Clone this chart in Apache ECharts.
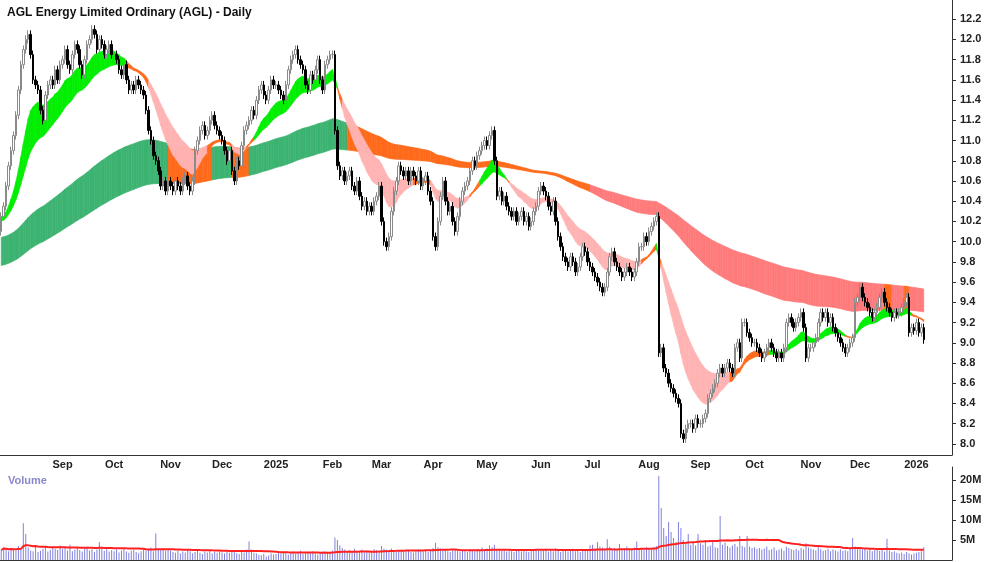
<!DOCTYPE html>
<html><head><meta charset="utf-8">
<script src="https://cdn.jsdelivr.net/npm/echarts@6/dist/echarts.min.js"></script>
<style>html,body{margin:0;padding:0;background:#fff}#c{width:1000px;height:562px}</style>
</head><body><div id="c"></div>
<script>
// daily closes by month
const closesAug24=[10.25,10.35,10.55,10.75,10.9,11.05,11.25,11.5,11.75,11.9,12.0,12.05,11.85,11.6,11.55,11.5,11.3,11.2,11.45,11.55,11.6,11.55,11.7,11.6,11.75];
const closesSep24=[11.8,11.9,11.75,11.7,11.85,11.95,11.9,11.75,11.65,11.8,11.95,12.0,12.1,12.05,11.9,12.0,11.95,11.85,11.9,11.95,11.85];
const closesOct24=[11.85,11.8,11.7,11.65,11.75,11.6,11.5,11.55,11.5,11.6,11.55,11.5,11.45,11.3,11.1,11.0,10.85,10.8,10.7,10.55,10.6,10.5,10.6];
const closesNov24=[10.55,10.5,10.6,10.55,10.5,10.6,10.65,10.55,10.5,10.6,10.9,11.0,11.1,11.15,11.05,11.1,11.2,11.25,11.15,11.1,11.05];
const closesDec24=[11.0,10.9,10.8,10.9,10.7,10.6,10.8,10.75,10.95,11.1,11.15,11.2,11.3,11.25,11.4,11.5,11.55,11.45,11.4,11.5,11.6,11.55];
const closesJan25=[11.55,11.5,11.45,11.4,11.55,11.7,11.8,11.85,11.9,11.8,11.75,11.7,11.55,11.5,11.65,11.6,11.7,11.8,11.6,11.5,11.75,11.8,11.85];
const closesFeb25=[11.85,11.1,10.75,10.65,10.7,10.6,10.65,10.7,10.55,10.5,10.6,10.45,10.35,10.4,10.3,10.35,10.3,10.4,10.45,10.55];
const closesMar25=[10.2,10.0,9.95,10.05,10.3,10.5,10.6,10.75,10.7,10.65,10.7,10.6,10.7,10.65,10.6,10.7,10.55,10.6,10.65,10.5,10.4];
const closesApr25=[10.05,9.95,10.2,10.45,10.6,10.4,10.3,10.35,10.2,10.1,10.25,10.4,10.5,10.55,10.6,10.7,10.8,10.75,10.85,10.9,10.95,11.0];
const closesMay25=[10.95,11.05,11.1,10.8,10.45,10.5,10.4,10.45,10.35,10.3,10.25,10.3,10.2,10.25,10.3,10.2,10.25,10.15,10.2,10.3,10.35,10.5];
const closesJun25=[10.55,10.5,10.45,10.35,10.3,10.4,10.2,10.05,9.95,9.85,9.8,9.75,9.85,9.8,9.7,9.75,9.85,9.95,9.9,9.8,9.75];
const closesJul25=[9.7,9.65,9.6,9.55,9.5,9.55,9.7,9.85,9.9,9.8,9.75,9.7,9.65,9.7,9.75,9.7,9.65,9.7,9.8,9.95,9.95,10.05,10.0];
const closesAug25=[10.1,10.15,10.2,10.25,8.9,8.95,8.75,8.7,8.6,8.55,8.5,8.45,8.4,8.1,8.05,8.15,8.2,8.2,8.15,8.25,8.2];
const closesSep25=[8.2,8.25,8.3,8.45,8.5,8.55,8.6,8.7,8.75,8.7,8.75,8.8,8.75,8.7,8.95,9.0,8.85,9.2,9.2,9.1,9.05,9.0];
const closesOct25=[9.0,8.95,8.9,8.85,8.9,8.95,9.0,8.95,8.9,8.85,8.9,8.85,8.95,9.2,9.25,9.2,9.15,9.2,9.25,9.3,9.15,8.85,8.95];
const closesNov25=[8.95,9.0,9.05,9.2,9.3,9.25,9.3,9.2,9.25,9.15,9.1,9.05,9.0,8.95,8.9,8.95,9.0,9.05,9.4,9.45];
const closesDec25=[9.55,9.45,9.4,9.35,9.3,9.25,9.3,9.35,9.45,9.5,9.4,9.35,9.3,9.25,9.3,9.28,9.3,9.35,9.4,9.45,9.1,9.15,9.12];
const closesJan26=[9.2,9.1,9.15,9.03];
const firstOpen=10.1;
const wick=0.04;
// volumes (millions)
const volumes=[
2.5,3.2,2.8,2.2,3.0,2.6,2.4,3.5,2.9,9.2,6.5,3.1,2.4,2.2,3.6,2.0,2.3,2.8,3.4,2.1,2.5,3.3,2.8,2.5,3.6,
2.8,3.1,2.4,3.8,2.2,2.6,3.0,2.5,2.1,2.9,3.3,2.4,2.7,2.0,2.6,4.5,3.2,2.3,2.8,2.1,2.5,
2.2,2.6,1.9,2.4,2.8,2.1,1.8,2.3,2.5,2.0,1.7,2.2,2.6,2.4,2.9,3.1,2.2,6.6,2.8,2.5,3.0,2.3,2.7,
2.4,2.0,1.8,2.3,1.6,2.1,1.9,2.5,2.2,1.7,2.0,2.4,1.8,1.5,2.1,1.9,2.3,1.6,2.0,1.8,2.2,
1.9,1.6,2.1,1.8,2.4,2.0,1.7,1.5,2.2,1.9,2.6,4.6,2.0,1.8,1.6,1.3,1.2,1.5,0.9,1.1,1.6,1.4,
1.5,1.8,1.6,2.0,1.7,1.4,1.9,2.1,1.6,1.8,2.3,1.5,1.7,2.0,1.9,2.2,1.6,1.4,1.8,2.1,1.7,1.9,2.0,
2.4,5.6,5.0,3.6,3.0,2.6,2.2,2.5,2.0,2.8,2.3,2.1,2.6,1.9,2.4,2.2,2.0,2.7,2.5,2.3,
3.5,2.8,2.6,2.4,2.9,2.2,2.0,2.5,2.3,2.1,2.6,2.4,2.0,1.9,2.2,2.7,2.3,2.1,2.5,2.0,2.4,
3.0,4.3,3.2,2.8,2.5,2.6,2.2,2.0,2.4,2.7,2.3,2.1,2.5,2.2,2.0,2.6,2.4,2.2,2.8,2.5,3.1,2.7,
2.9,3.6,3.2,3.8,2.7,2.5,2.3,2.6,2.1,2.4,2.2,2.0,2.5,2.3,2.1,2.6,2.2,2.0,2.4,2.7,2.5,2.3,
2.6,2.3,2.8,2.1,2.5,2.2,2.9,2.4,2.0,2.3,2.7,2.1,2.5,2.8,2.2,2.4,2.0,2.6,2.3,2.5,3.7,
3.8,2.9,4.5,3.4,3.1,2.8,5.2,3.3,2.6,3.0,2.7,4.0,2.5,2.9,3.4,2.8,2.6,3.1,4.6,2.7,3.0,2.5,3.2,
3.0,2.6,3.2,3.5,21.0,13.0,8.0,6.0,9.5,7.0,5.5,4.5,9.5,8.0,5.0,4.2,6.5,3.8,4.4,3.6,6.5,
4.2,3.8,5.0,3.4,3.6,4.5,3.2,3.0,11.0,3.8,4.4,3.5,3.1,3.6,4.0,3.3,6.0,3.5,3.2,6.0,3.4,3.0,
3.2,2.8,3.0,2.6,2.9,3.4,2.5,2.7,3.1,2.4,2.6,2.9,2.3,3.3,3.0,2.7,2.5,2.8,2.4,3.0,2.6,4.2,3.1,
2.9,2.6,2.4,3.2,2.7,2.3,2.5,2.8,2.2,2.6,2.4,2.1,2.7,2.3,2.5,2.2,2.8,5.5,3.4,2.9,
3.0,2.6,2.8,2.4,2.7,2.2,2.5,2.9,2.3,2.6,2.1,5.3,2.4,2.0,2.2,1.8,1.6,1.9,1.5,2.0,1.7,1.4,1.6,
1.8,2.0,2.2,3.2];
const priceTicks=[8.0,8.2,8.4,8.6,8.8,9.0,9.2,9.4,9.6,9.8,10.0,10.2,10.4,10.6,10.8,11.0,11.2,11.4,11.6,11.8,12.0,12.2];
const volTicks=[5,10,15,20];
const shortPeriods=[15,17,20,23,26,30], shortSeed=[10.25,10.24,10.23,10.22,10.21,10.2];
const longPeriods=[130,145,160,175,195,215], longSeed=[10.04,9.98,9.92,9.86,9.81,9.76];
const volMaLen=50;
const startDate='2024-07-29';
const padDays=11;

const closes=[].concat(closesAug24,closesSep24,closesOct24,closesNov24,closesDec24,closesJan25,closesFeb25,closesMar25,closesApr25,closesMay25,closesJun25,closesJul25,closesAug25,closesSep25,closesOct25,closesNov25,closesDec25,closesJan26);
const n=closes.length;
const dates=[];{let d=new Date(startDate+'T00:00:00Z');while(dates.length<n+padDays){const w=d.getUTCDay();if(w!==0&&w!==6)dates.push(d.toISOString().slice(0,10));d.setUTCDate(d.getUTCDate()+1);}}
const candles=closes.map((c,i)=>{const o=i?closes[i-1]:firstOpen;return [o,c,Math.min(o,c)-wick,Math.max(o,c)+wick];});
function emas(periods,seed){return periods.map((p,k)=>{let e=seed[k];const a=2/(p+1);return closes.map(c=>(e=e+a*(c-e)));});}
const S=emas(shortPeriods,shortSeed), L=emas(longPeriods,longSeed);
function order(G,i){const v=G.map(g=>g[i]);let asc=true,desc=true;for(let k=1;k<v.length;k++){if(v[k]>v[k-1])asc=false;if(v[k]<v[k-1])desc=false;}return {lo:Math.min(...v),hi:Math.max(...v),asc,desc};}
const shortBand=[],longBand=[];
for(let i=0;i<n;i++){const s=order(S,i),l=order(L,i);
shortBand.push([i,s.lo,s.hi,s.asc?'#00ee00':(s.desc?'#ffb3b3':'#ff6a1a')]);
longBand.push([i,l.lo,l.hi,(l.asc&&s.lo>l.hi)?'#3cb371':((l.desc&&s.hi<l.lo)?'#ff7b7b':'#ff6a1a')]);}
const vol=volumes.slice(0,n);
const volMa=vol.map((v,i)=>{const s=Math.max(0,i-volMaLen+1);let t=0;for(let j=s;j<=i;j++)t+=vol[j];return t/(i-s+1);});

function bandRender(data){return function(params,api){const i=api.value(0);if(i>=data.length-1)return;const a=data[i],b=data[i+1];
const p=[api.coord([i,a[1]]),api.coord([i+1,b[1]]),api.coord([i+1,b[2]]),api.coord([i,a[2]])];
return {type:'polygon',shape:{points:p},style:{fill:a[3],stroke:a[3],lineWidth:0.6}};};}
const mNames=['Jan','Feb','Mar','Apr','May','Jun','Jul','Aug','Sep','Oct','Nov','Dec'];
const isMonthStart=(i)=>i>5&&dates[i].slice(5,7)!==dates[i-1].slice(5,7);
const font={fontFamily:'Liberation Sans, Arial',fontWeight:'bold',fontSize:11,color:'#222'};
const ch=echarts.init(document.getElementById('c'));
ch.setOption({animation:false,backgroundColor:'#fff',
title:[{text:'AGL Energy Limited Ordinary (AGL) - Daily',left:2,top:2,textStyle:{fontFamily:'Liberation Sans, Arial',fontSize:12,fontWeight:'bold',color:'#111'}},
{text:'Volume',left:3,top:470,textStyle:{fontFamily:'Liberation Sans, Arial',fontSize:11,fontWeight:'bold',color:'#8888cc'}}],
grid:[{left:0,right:48,top:0,height:455},{left:0,right:48,top:467,height:93}],
xAxis:[{type:'category',data:dates,gridIndex:0,boundaryGap:true,axisLine:{lineStyle:{color:'#333'}},
axisTick:{interval:(i)=>isMonthStart(i),length:4,lineStyle:{color:'#333'}},
axisLabel:Object.assign({interval:(i)=>isMonthStart(i),margin:4,formatter:(v)=>{const m=+v.slice(5,7);return m===1?v.slice(0,4):mNames[m-1];}},font),splitLine:{show:false}},
{type:'category',data:dates,gridIndex:1,position:'top',axisLine:{lineStyle:{color:'#333'}},axisTick:{show:false},axisLabel:{show:false}}],
yAxis:[{type:'value',gridIndex:0,position:'right',min:7.89,max:12.39,axisLine:{show:true,lineStyle:{color:'#333'}},
axisTick:{show:true,customValues:priceTicks,length:4,lineStyle:{color:'#333'}},splitLine:{show:false},
axisLabel:Object.assign({customValues:priceTicks,margin:8,formatter:(v)=>v.toFixed(1)},font)},
{type:'value',gridIndex:1,position:'right',min:0,max:23.25,axisLine:{show:true,lineStyle:{color:'#333'}},
axisTick:{show:true,customValues:volTicks,length:4,lineStyle:{color:'#333'}},splitLine:{show:false},
axisLabel:Object.assign({customValues:volTicks,margin:8,formatter:(v)=>v+'M'},font)}],
series:[
{type:'custom',xAxisIndex:0,yAxisIndex:0,renderItem:bandRender(longBand),data:longBand.map(d=>[d[0],d[1],d[2]]),encode:{x:0,y:[1,2]},z:1,silent:true},
{type:'custom',xAxisIndex:0,yAxisIndex:0,renderItem:bandRender(shortBand),data:shortBand.map(d=>[d[0],d[1],d[2]]),encode:{x:0,y:[1,2]},z:2,silent:true},
{type:'candlestick',xAxisIndex:0,yAxisIndex:0,data:candles,barWidth:2,z:5,
itemStyle:{color:'#ffffff',color0:'#000000',borderColor:'#8a8a8a',borderColor0:'#000000',borderWidth:1}},
{type:'bar',xAxisIndex:1,yAxisIndex:1,data:vol,barWidth:1,itemStyle:{color:'#8080dd'}},
{type:'line',xAxisIndex:1,yAxisIndex:1,data:volMa,showSymbol:false,lineStyle:{color:'#ff2020',width:2}}
]});
</script></body></html>
